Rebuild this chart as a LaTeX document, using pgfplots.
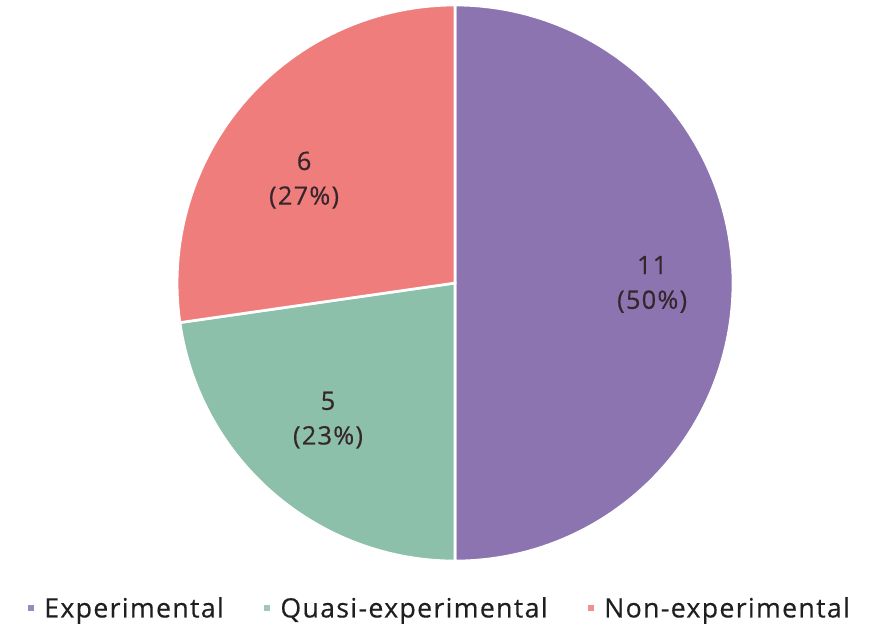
\documentclass[border=0pt]{standalone}
\usepackage{pgfplots}
\usepackage{pgfplotstable}
\pgfplotsset{compat=1.18}
\usepackage{fontspec}
\setmainfont{Open Sans}
\newfontfamily\spaced[LetterSpace=5,FakeBold=0.4]{Open Sans}
\definecolor{cExp}{HTML}{8B74B0}
\definecolor{cQua}{HTML}{8DC0AB}
\definecolor{cNon}{HTML}{EF7D7B}
\definecolor{lbl}{HTML}{35262C}
\pgfplotstableread{
label value
Experimental 11
Quasi 5
Non 6
}\datatable
\begin{document}
\begin{tikzpicture}
\pgfplotstablegetelem{0}{value}\of\datatable \let\vA\pgfplotsretval
\pgfplotstablegetelem{1}{value}\of\datatable \let\vB\pgfplotsretval
\pgfplotstablegetelem{2}{value}\of\datatable \let\vC\pgfplotsretval
\pgfmathsetmacro\tot{\vA+\vB+\vC}
\pgfmathsetmacro\aA{90-360*\vA/\tot}
\pgfmathsetmacro\aB{\aA-360*\vB/\tot}
\pgfmathsetmacro\aC{\aB-360*\vC/\tot}
\begin{axis}[name=ax, hide axis, scale only axis, width=657.75pt, height=468.75pt,
  xmin=-1.637, xmax=1.518, ymin=-1.230, ymax=1.018, clip=false,
  legend columns=3,
  legend style={at={(axis cs:-0.054,-1.170)}, anchor=center, draw=none, fill=none,
    font=\spaced\fontsize{20pt}{24pt}\selectfont, text=black!88,
    /tikz/every odd column/.style={column sep=6pt},
    /tikz/every even column/.style={column sep=28pt}},
  legend image code/.code={\fill[#1,draw=none,opacity=0.85] (4pt,-2.2pt) rectangle (8.5pt,2.2pt);},
]
\addplot[fill=cExp, draw=white, line width=2pt, domain=\aA:90, samples=120] ({cos(x)},{sin(x)}) -- (axis cs:0,0) -- cycle;
\addlegendentry{Experimental}
\addplot[fill=cQua, draw=white, line width=2pt, domain=\aB:\aA, samples=60] ({cos(x)},{sin(x)}) -- (axis cs:0,0) -- cycle;
\addlegendentry{Quasi-experimental}
\addplot[fill=cNon, draw=white, line width=2pt, domain=\aC:\aB, samples=60] ({cos(x)},{sin(x)}) -- (axis cs:0,0) -- cycle;
\addlegendentry{Non-experimental}
\node[align=center, text=lbl, font=\spaced\fontsize{19pt}{26pt}\selectfont] at (axis cs:0.709,-0.005) {11\\(50\%)};
\node[align=center, text=lbl, font=\spaced\fontsize{19pt}{26pt}\selectfont] at (axis cs:-0.543,0.37) {6\\(27\%)};
\node[align=center, text=lbl, font=\spaced\fontsize{19pt}{26pt}\selectfont] at (axis cs:-0.457,-0.493) {5\\(23\%)};
\end{axis}
\pgfresetboundingbox
\path[use as bounding box] (ax.south west) rectangle (ax.north east);
\end{tikzpicture}
\end{document}
